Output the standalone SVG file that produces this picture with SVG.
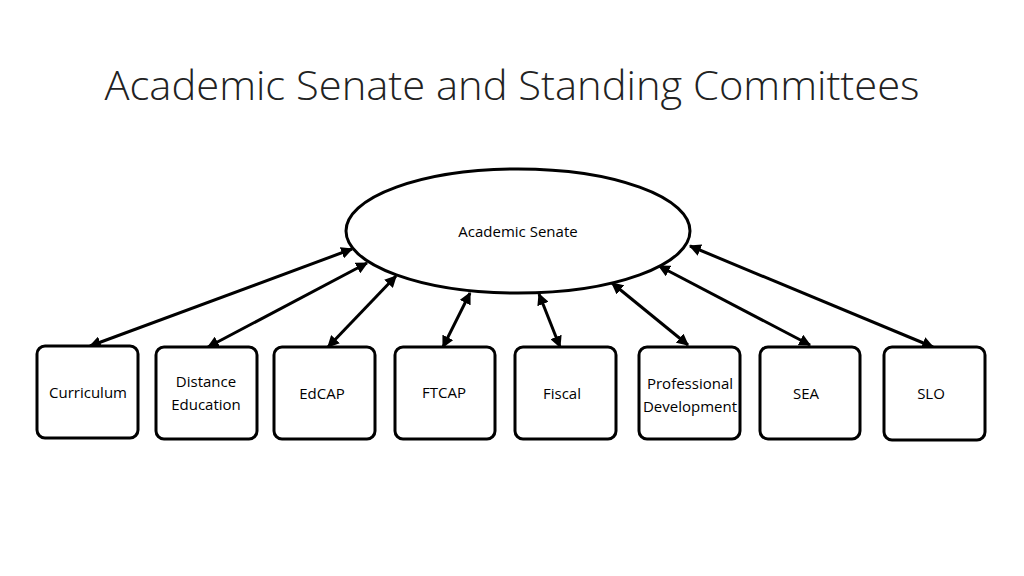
<svg xmlns="http://www.w3.org/2000/svg" width="1024" height="576" viewBox="0 0 1024 576">
<style>
.box{fill:#fff;stroke:#000;stroke-width:3}
.t{font-family:"Open Sans","Liberation Sans",sans-serif;font-size:15px;fill:#000;text-anchor:middle}
.c{stroke:#000;stroke-width:3;fill:none;marker-start:url(#a);marker-end:url(#a)}
</style>
<defs>
<marker id="a" viewBox="0 0 10 10" refX="9" refY="5" markerWidth="4" markerHeight="4" orient="auto-start-reverse" markerUnits="strokeWidth">
<path d="M0,0L10,5L0,10z" fill="#000"/>
</marker>
</defs>
<rect width="1024" height="576" fill="#fff"/>
<text x="512" y="100" font-family="'Open Sans','Liberation Sans',sans-serif" font-weight="300" font-size="40" text-anchor="middle" textLength="815" lengthAdjust="spacingAndGlyphs" fill="#222">Academic Senate and Standing Committees</text>
<g id="connectors">
<line class="c" x1="352" y1="249" x2="90" y2="346"/>
<line class="c" x1="367" y1="263" x2="208" y2="347"/>
<line class="c" x1="396" y1="276" x2="328" y2="347"/>
<line class="c" x1="470" y1="293" x2="443" y2="347"/>
<line class="c" x1="539" y1="294" x2="560" y2="347"/>
<line class="c" x1="612" y1="283" x2="688" y2="345"/>
<line class="c" x1="659" y1="266" x2="810" y2="345"/>
<line class="c" x1="690" y1="246" x2="933" y2="347"/>
</g>
<g id="senate"><ellipse cx="518" cy="231" rx="172" ry="62" class="box"/><text class="t" x="518" y="237">Academic Senate</text></g>
<g id="curriculum"><rect class="box" x="37" y="346" width="101" height="92" rx="8"/><text class="t" x="88" y="398">Curriculum</text></g>
<g id="distance"><rect class="box" x="156" y="347" width="101" height="92" rx="8"/><text class="t" x="206" y="387">Distance</text><text class="t" x="206" y="410">Education</text></g>
<g id="edcap"><rect class="box" x="274" y="347" width="101" height="92" rx="8"/><text class="t" x="322" y="399">EdCAP</text></g>
<g id="ftcap"><rect class="box" x="395" y="347" width="100" height="92" rx="8"/><text class="t" x="444" y="398">FTCAP</text></g>
<g id="fiscal"><rect class="box" x="515" y="347" width="101" height="92" rx="8"/><text class="t" x="562" y="399">Fiscal</text></g>
<g id="profdev"><rect class="box" x="639" y="347" width="101" height="92" rx="8"/><text class="t" x="690" y="389">Professional</text><text class="t" x="690" y="412">Development</text></g>
<g id="sea"><rect class="box" x="760" y="347" width="100" height="92" rx="8"/><text class="t" x="806" y="399">SEA</text></g>
<g id="slo"><rect class="box" x="884" y="347" width="101" height="93" rx="8"/><text class="t" x="931" y="399">SLO</text></g>
</svg>
